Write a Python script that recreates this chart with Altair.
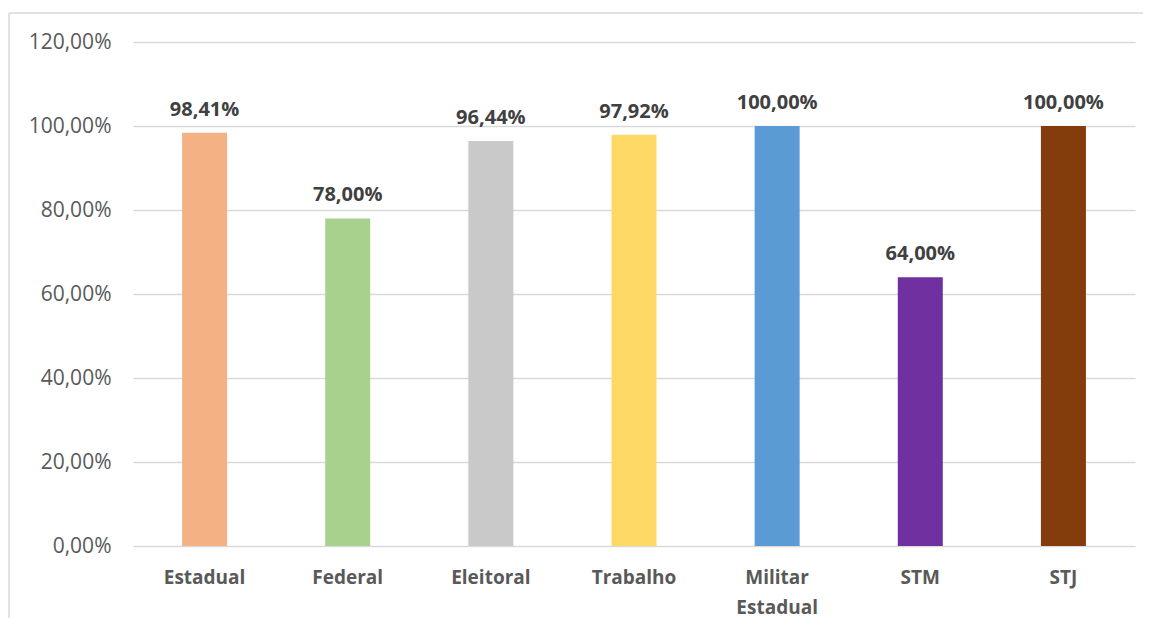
import altair as alt
import pandas as pd

categories = ["Estadual", "Federal", "Eleitoral", "Trabalho", "Militar\nEstadual", "STM", "STJ"]
values = [98.41, 78.00, 96.44, 97.92, 100.00, 64.00, 100.00]
colors = ["#F4B183", "#A9D18E", "#C9C9C9", "#FFD966", "#5B9BD5", "#7030A0", "#843C0C"]
y_ticks = [0, 20, 40, 60, 80, 100, 120]

df = pd.DataFrame({"cat": categories, "val": values})

FONT = "Open Sans"
GRID = "#d9d9d9"

base = alt.Chart(df).encode(
    x=alt.X(
        "cat:N",
        sort=categories,
        title=None,
        scale=alt.Scale(paddingInner=0, paddingOuter=0),
        axis=alt.Axis(
            labelExpr="split(datum.label, '\\n')",
            labelAngle=0,
            labelFont=FONT,
            labelFontSize=19,
            labelFontWeight="bold",
            labelColor="#595959",
            labelPadding=22,
            labelLineHeight=30,
            labelBaseline="top",
            ticks=False,
            domain=False,
            grid=False,
        ),
    )
)

bars = base.mark_bar(size=45).encode(
    y=alt.Y(
        "val:Q",
        title=None,
        scale=alt.Scale(domain=[0, 120], nice=False),
        axis=alt.Axis(
            values=y_ticks,
            labelExpr="replace(format(datum.value, '.2f'), '.', ',') + '%'",
            labelFont=FONT,
            labelFontSize=21,
            labelColor="#595959",
            labelPadding=22,
            ticks=False,
            domain=False,
            grid=True,
            gridColor=GRID,
            gridWidth=1.4,
        ),
    ),
    color=alt.Color("cat:N", sort=categories, scale=alt.Scale(domain=categories, range=colors), legend=None),
)

labels = base.transform_calculate(
    txt="replace(format(datum.val, '.2f'), '.', ',') + '%'"
).mark_text(
    font=FONT, fontSize=20, fontWeight="bold", color="#404040", baseline="alphabetic", dy=-17
).encode(
    y=alt.Y("val:Q", scale=alt.Scale(domain=[0, 120], nice=False)),
    text="txt:N",
)

frame_df = pd.DataFrame({"a": [0]})
left_rule = alt.Chart(frame_df).mark_rule(color=GRID, strokeWidth=1.5).encode(
    x=alt.value(-124), y=alt.value(-29), y2=alt.value(580)
)
top_rule = alt.Chart(frame_df).mark_rule(color=GRID, strokeWidth=1.5).encode(
    x=alt.value(-124), x2=alt.value(1010), y=alt.value(-29)
)

chart = alt.layer(bars, labels, left_rule, top_rule).properties(
    width=1002,
    height=504,
    padding={"left": 125, "top": 34, "right": 8, "bottom": 72},
    autosize=alt.AutoSizeParams(type="none"),
    background="white",
).configure_view(stroke=None)

chart.save("out.html", embed_options={"renderer": "svg", "actions": False})
